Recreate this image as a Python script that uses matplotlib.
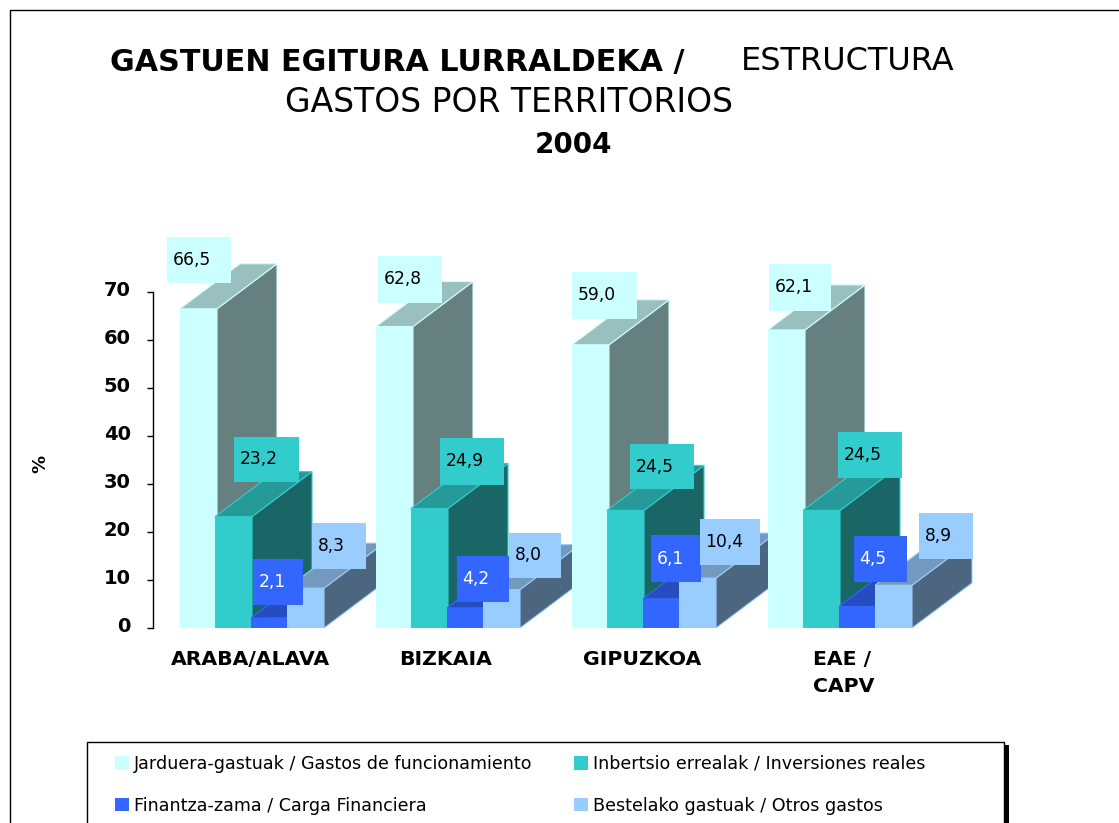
import matplotlib
matplotlib.use("Agg")
import matplotlib.pyplot as plt
from matplotlib.patches import Polygon, Rectangle, Patch
from matplotlib.transforms import Affine2D
from matplotlib.colors import to_rgb

W, H = 1119, 823
categories = ["ARABA/ALAVA", "BIZKAIA", "GIPUZKOA", "EAE /\nCAPV"]
series_names = ["Jarduera-gastuak / Gastos de funcionamiento",
                "Inbertsio errealak / Inversiones reales",
                "Finantza-zama / Carga Financiera",
                "Bestelako gastuak / Otros gastos"]
funcionamiento = [66.5, 62.8, 59.0, 62.1]
inversiones = [23.2, 24.9, 24.5, 24.5]
carga = [2.1, 4.2, 6.1, 4.5]
otros = [8.3, 8.0, 10.4, 8.9]
y_ticks = [0, 10, 20, 30, 40, 50, 60, 70]

series = [funcionamiento, inversiones, carga, otros]
colors = ["#CCFFFF", "#33CCCC", "#3366FF", "#99CCFF"]
# label box pixels (left, top, right, bottom) per series, per group
boxes = [
    [(167, 237, 231, 283), (378, 256, 442, 303), (572, 272, 637, 319), (769, 264, 831, 311)],
    [(234, 437, 299, 482), (440, 438, 504, 485), (630, 444, 694, 489), (838, 432, 902, 478)],
    [(253, 559, 303, 605), (457, 556, 509, 602), (651, 535, 701, 582), (854, 536, 907, 582)],
    [(312, 523, 366, 569), (509, 533, 561, 578), (700, 519, 760, 565), (919, 513, 973, 559)],
]
text_colors = ["black", "black", "white", "black"]

font = "DejaVu Sans"
plt.rcParams["font.family"] = font
fig = plt.figure(figsize=(W / 100, H / 100), dpi=100)
px = Affine2D().scale(1, -1).translate(0, H)

# axes geometry in pixels
left, right, top, bottom = 153, 1000, 292, 628
ax = fig.add_axes([left / W, 1 - bottom / H, (right - left) / W, (bottom - top) / H])
group_px = 196.0
center0 = 252.0
ax.set_xlim((left - center0) / group_px, (right - center0) / group_px)
ax.set_ylim(0, 70)
ax.patch.set_alpha(0)
for s in ["top", "right", "bottom"]:
    ax.spines[s].set_visible(False)
ax.spines["left"].set_linewidth(1.0)
ax.set_yticks(y_ticks)
ax.set_yticklabels([str(t) for t in y_ticks], fontsize=14, fontweight="bold")
ax.tick_params(axis="y", length=4, width=1.0, pad=12)
for lab in ax.get_yticklabels():
    lab.set_transform(lab.get_transform() + Affine2D().translate(0, 3))
ax.set_xticks(range(len(categories)))
ax.set_xticklabels(categories, fontsize=14.7, fontweight="bold", linespacing=1.5)
ax.tick_params(axis="x", length=0, pad=16)
labels = ax.get_xticklabels()
for lab in labels[:3]:
    lab.set_transform(lab.get_transform() + Affine2D().translate(-2, 0))
labels[3].set_ha("left")
labels[3].set_x(3)
labels[3].set_transform(labels[3].get_transform() + Affine2D().translate(-27, 0))

dx = 60 / group_px
dy = 45 / ((bottom - top) / 70)
bar_w = 37 / group_px
offs = [-72 / group_px, -37 / group_px, -1 / group_px, 35 / group_px]


def shade(c, f):
    return tuple(v * f for v in to_rgb(c))


for i in range(len(categories)):
    for j, vals in enumerate(series):
        v = vals[i]
        x0 = i + offs[j]
        x1 = x0 + bar_w
        z = 2 + i * 10 + j
        ax.add_patch(Polygon([(x1, 0), (x1 + dx, dy), (x1 + dx, v + dy), (x1, v)],
                             facecolor=shade(colors[j], 0.5), edgecolor=colors[j],
                             linewidth=0.8, zorder=z, clip_on=False))
        ax.add_patch(Polygon([(x0, v), (x0 + dx, v + dy), (x1 + dx, v + dy), (x1, v)],
                             facecolor=shade(colors[j], 0.75), edgecolor=colors[j],
                             linewidth=0.8, zorder=z, clip_on=False))
        ax.bar(x0, v, width=bar_w, align="edge", color=colors[j], linewidth=0,
               zorder=z + 0.5, clip_on=False)

ax.text(40, 464, "%", transform=px, rotation=90, fontsize=13, fontweight="bold",
        ha="center", va="center")

# value labels
for j, vals in enumerate(series):
    for i, v in enumerate(vals):
        l, t, r, b = boxes[j][i]
        ax.add_patch(Rectangle((l, t), r - l, b - t, transform=px, facecolor=colors[j],
                               edgecolor="none", zorder=100, clip_on=False))
        ax.text(l + 5.5, (t + b) / 2, f"{v:.1f}".replace(".", ","), transform=px,
                fontsize=12.3, color=text_colors[j], ha="left", va="center",
                zorder=101, clip_on=False)

# titles
fig.text(110, 62, "GASTUEN EGITURA LURRALDEKA /", transform=px, fontsize=21.7,
         fontweight="bold", ha="left", va="center")
fig.text(741, 62, "ESTRUCTURA", transform=px, fontsize=23, ha="left", va="center")
fig.text(285, 103, "GASTOS POR TERRITORIOS", transform=px, fontsize=23.8, ha="left", va="center")
fig.text(535, 145, "2004", transform=px, fontsize=20, fontweight="bold", ha="left", va="center")

# outer frame
fig.add_artist(Rectangle((9.5, 10), 1300, 1000, transform=px, facecolor="none",
                         edgecolor="black", linewidth=1.0))
# legend frame with shadow
fig.add_artist(Rectangle((1004, 745), 5, 200, transform=px, facecolor="black", edgecolor="none"))
fig.add_artist(Rectangle((87, 741.5), 917, 200, transform=px, facecolor="white",
                         edgecolor="black", linewidth=1.0))
handles = [Patch(facecolor=c, edgecolor="none") for c in colors]
order = [0, 2, 1, 3]
leg = fig.legend([handles[k] for k in order], [series_names[k] for k in order],
                 ncol=2, frameon=False, fontsize=12.6, loc="upper left",
                 bbox_to_anchor=(115 / W, 1 - 755 / H), borderaxespad=0, borderpad=0,
                 handlelength=0.8, handleheight=0.8, handletextpad=0.3,
                 labelspacing=1.35, columnspacing=2.34)

fig.savefig("out.png", dpi=100, facecolor="white")
